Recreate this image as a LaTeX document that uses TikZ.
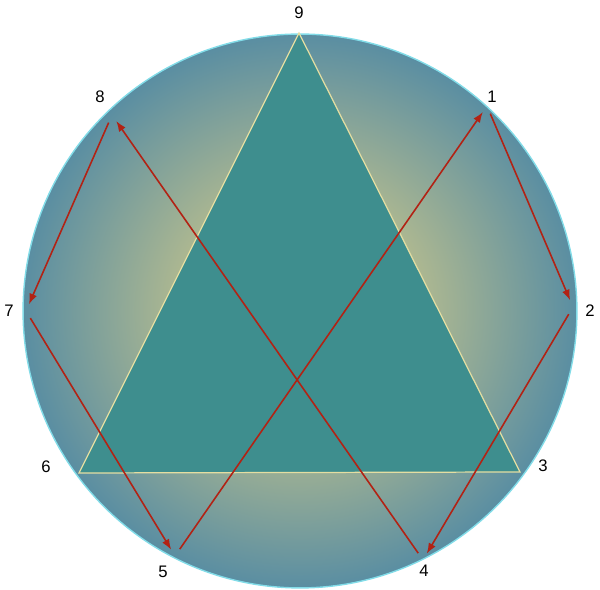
\documentclass[tikz,border=0pt]{standalone}
\usepackage{tikz}
\usetikzlibrary{arrows.meta}
\usepackage{fontspec}
\newfontfamily\numfont{Liberation Sans}
\usepackage{xcolor}

\definecolor{rimblue}{RGB}{90,142,162}
\definecolor{glowkhaki}{RGB}{186,190,142}
\definecolor{rimcyan}{RGB}{130,220,232}
\definecolor{innerteal}{RGB}{62,142,142}
\definecolor{edgeyellow}{RGB}{228,222,162}
\definecolor{arrowred}{RGB}{178,34,20}

\pgfdeclareradialshading{ennea}{\pgfpoint{0bp}{0bp}}{color(0bp)=(glowkhaki); color(9bp)=(glowkhaki); color(25bp)=(rimblue); color(50bp)=(rimblue)}

\begin{document}
\begin{tikzpicture}[x=0.02cm, y=-0.02cm, >={Latex[length=6pt,width=4.5pt]},
  point/.style={circle, inner sep=0pt, minimum size=0.28cm},
  num/.style={font=\numfont\fontsize{9.5}{11}\selectfont, inner sep=0pt},
  move/.style={->, draw=arrowred, line width=0.9pt, shorten <=0.02cm}]

\useasboundingbox (0,0) rectangle (600,590);

\coordinate (centre) at (300,311);
\shadedraw [shading=ennea, draw=rimcyan, line width=0.8pt] (centre) circle [radius=5.54cm];

% points on the circle
\foreach \n/\x/\y in {9/299/33, 1/487/106, 2/573/307, 3/520/472, 4/423/560,
                      5/175/556, 6/79/473, 7/26/311, 8/112/115}
  \node [point] (p\n) at (\x,\y) {};

\filldraw [fill=innerteal, draw=edgeyellow, line width=0.7pt]
  (p9.center) -- (p3.center) -- (p6.center) -- cycle;

\foreach \a/\b in {1/2, 2/4, 4/8, 8/7, 7/5, 5/1}
  \draw [move] (p\a) -- (p\b);

% numbers
\foreach \n/\x/\y in {9/299/13, 1/492/97, 2/590/311, 3/543/466, 4/424/571,
                      5/163/572, 6/46/467, 7/9/311, 8/100/97}
  \node [num] (l\n) at (\x,\y) {\n};

\end{tikzpicture}
\end{document}
